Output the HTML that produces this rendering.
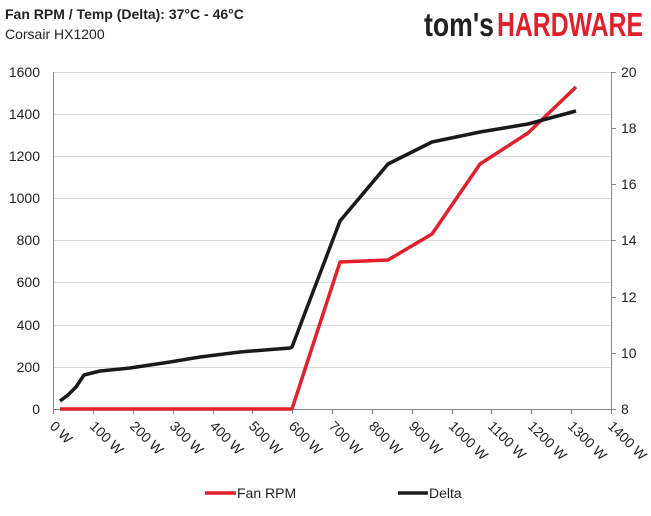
<!DOCTYPE html><html><head><style>body{margin:0;background:#fff;width:651px;height:511px;overflow:hidden;font-family:"Liberation Sans",sans-serif}</style></head><body>
<svg width="651" height="511" xmlns="http://www.w3.org/2000/svg" font-family="Liberation Sans, sans-serif">
<text x="5" y="19" font-size="14" font-weight="bold" fill="#222">Fan RPM / Temp (Delta): 37°C - 46°C</text>
<text x="5" y="39" font-size="14" fill="#222">Corsair HX1200</text>
<text x="424" y="36" font-size="33" font-weight="bold" fill="#222" textLength="70" lengthAdjust="spacingAndGlyphs">tom's</text>
<text x="497" y="36" font-size="33" font-weight="bold" fill="#e0202a" textLength="146" lengthAdjust="spacingAndGlyphs">HARDWARE</text>
<g stroke="#d9d9d9" stroke-width="1">
<line x1="53" y1="72.5" x2="611" y2="72.5"/><line x1="53" y1="114.5" x2="611" y2="114.5"/><line x1="53" y1="156.5" x2="611" y2="156.5"/><line x1="53" y1="198.5" x2="611" y2="198.5"/><line x1="53" y1="240.5" x2="611" y2="240.5"/><line x1="53" y1="282.5" x2="611" y2="282.5"/><line x1="53" y1="325.5" x2="611" y2="325.5"/><line x1="53" y1="367.5" x2="611" y2="367.5"/>
</g>
<g stroke="#888" stroke-width="1">
<line x1="53.5" y1="72" x2="53.5" y2="409"/><line x1="611.5" y1="72" x2="611.5" y2="409"/><line x1="53" y1="409.5" x2="611" y2="409.5"/>
<line x1="611" y1="72.5" x2="616" y2="72.5"/><line x1="611" y1="128.5" x2="616" y2="128.5"/><line x1="611" y1="184.5" x2="616" y2="184.5"/><line x1="611" y1="240.5" x2="616" y2="240.5"/><line x1="611" y1="297.5" x2="616" y2="297.5"/><line x1="611" y1="353.5" x2="616" y2="353.5"/><line x1="611" y1="409.5" x2="616" y2="409.5"/>
<line x1="53.5" y1="409" x2="53.5" y2="414"/><line x1="93.5" y1="409" x2="93.5" y2="414"/><line x1="133.5" y1="409" x2="133.5" y2="414"/><line x1="173.5" y1="409" x2="173.5" y2="414"/><line x1="213.5" y1="409" x2="213.5" y2="414"/><line x1="252.5" y1="409" x2="252.5" y2="414"/><line x1="292.5" y1="409" x2="292.5" y2="414"/><line x1="332.5" y1="409" x2="332.5" y2="414"/><line x1="372.5" y1="409" x2="372.5" y2="414"/><line x1="412.5" y1="409" x2="412.5" y2="414"/><line x1="452.5" y1="409" x2="452.5" y2="414"/><line x1="491.5" y1="409" x2="491.5" y2="414"/><line x1="531.5" y1="409" x2="531.5" y2="414"/><line x1="571.5" y1="409" x2="571.5" y2="414"/><line x1="611.5" y1="409" x2="611.5" y2="414"/>
</g>
<g font-size="14" fill="#222" text-anchor="end">
<text x="40" y="77">1600</text><text x="40" y="119">1400</text><text x="40" y="161">1200</text><text x="40" y="203">1000</text><text x="40" y="245">800</text><text x="40" y="287">600</text><text x="40" y="330">400</text><text x="40" y="372">200</text><text x="40" y="414">0</text>
</g>
<g font-size="14" fill="#222">
<text x="621" y="77">20</text><text x="621" y="133">18</text><text x="621" y="189">16</text><text x="621" y="245">14</text><text x="621" y="302">12</text><text x="621" y="358">10</text><text x="621" y="414">8</text>
</g>
<g font-size="14" fill="#222">
<text transform="translate(49,427) rotate(45)">0 W</text>
<text transform="translate(89,427) rotate(45)">100 W</text>
<text transform="translate(129,427) rotate(45)">200 W</text>
<text transform="translate(169,427) rotate(45)">300 W</text>
<text transform="translate(209,427) rotate(45)">400 W</text>
<text transform="translate(248,427) rotate(45)">500 W</text>
<text transform="translate(288,427) rotate(45)">600 W</text>
<text transform="translate(328,427) rotate(45)">700 W</text>
<text transform="translate(368,427) rotate(45)">800 W</text>
<text transform="translate(408,427) rotate(45)">900 W</text>
<text transform="translate(448,427) rotate(45)">1000 W</text>
<text transform="translate(487,427) rotate(45)">1100 W</text>
<text transform="translate(527,427) rotate(45)">1200 W</text>
<text transform="translate(567,427) rotate(45)">1300 W</text>
<text transform="translate(607,427) rotate(45)">1400 W</text>
</g>
<polyline fill="none" stroke="#e0202a" stroke-width="3.5" stroke-linejoin="round" points="60,409 292,409 340,262 388,260 432,234 480,164 528,133 576,87"/>
<polyline fill="none" stroke="#1a1a1a" stroke-width="3.5" stroke-linejoin="round" points="60,401 68,395 76,387 84,375 100,371 130,368 150,365 170,362 200,357 240,352 290,348 292,347 340,221 388,164 432,142 480,132 528,124 576,111"/>
<line x1="205" y1="493" x2="236" y2="493" stroke="#e0202a" stroke-width="3.5"/>
<text x="237" y="498" font-size="14" fill="#222">Fan RPM</text>
<line x1="398" y1="493" x2="428" y2="493" stroke="#1a1a1a" stroke-width="3.5"/>
<text x="429" y="498" font-size="14" fill="#222">Delta</text>
</svg></body></html>
